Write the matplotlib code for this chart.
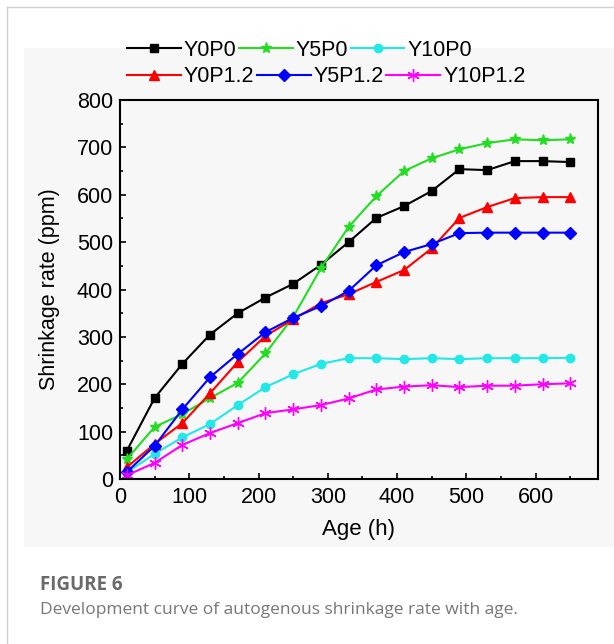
import numpy as np
import matplotlib
matplotlib.use('Agg')
import matplotlib.pyplot as plt
from matplotlib.patches import Rectangle
from matplotlib.lines import Line2D

# ages (h)
age = [10, 50, 90, 130, 170, 210, 250, 290, 330, 370, 410, 450, 490, 530, 570, 610, 650]

# shrinkage rate (ppm)
y0p0 = [60, 171, 243, 305, 350, 383, 412, 452, 500, 551, 576, 608, 654, 652, 671, 671, 669]
y5p0 = [42, 110, 137, 171, 203, 265, 342, 445, 532, 597, 650, 677, 696, 709, 717, 715, 717]
y10p0 = [14, 53, 88, 116, 156, 194, 221, 243, 255, 255, 253, 255, 253, 255, 255, 255, 256]
y0p12 = [25, 74, 118, 181, 247, 302, 337, 371, 390, 416, 441, 487, 551, 574, 593, 595, 595]
y5p12 = [15, 70, 147, 215, 264, 310, 340, 365, 397, 451, 479, 496, 519, 520, 520, 520, 520]
y10p12 = [8, 34, 72, 97, 118, 139, 147, 156, 170, 189, 195, 198, 194, 197, 197, 200, 202]

series = [
    ('Y0P0', y0p0, 'black', 's', 6),
    ('Y5P0', y5p0, '#22dd22', '*', 8),
    ('Y10P0', y10p0, '#22e8e8', 'o', 6),
    ('Y0P1.2', y0p12, 'red', '^', 7),
    ('Y5P1.2', y5p12, 'blue', 'D', 6),
    ('Y10P1.2', y10p12, 'magenta', (6, 2, 0), 9),
]

plt.rcParams['font.family'] = ['Liberation Sans', 'DejaVu Sans']

W, H = 614, 644
fig = plt.figure(figsize=(W / 100, H / 100), dpi=100)
fig.patch.set_facecolor('white')

# page frame and grey chart panel
fig.add_artist(Line2D([7 / W, 1], [1 - 7 / H, 1 - 7 / H], color='#d0d0d0', lw=1))
fig.add_artist(Line2D([7 / W, 7 / W], [0, 1 - 7 / H], color='#d0d0d0', lw=1))
fig.add_artist(Rectangle((24 / W, 1 - 547 / H), 1 - 24 / W, (547 - 48) / H,
                         transform=fig.transFigure, facecolor='#f7f7f7',
                         edgecolor='none', zorder=0))

ax = fig.add_axes([120 / W, 1 - 479 / H, 478 / W, 379 / H])
ax.set_facecolor('#f7f7f7')

handles = []
for name, vals, col, mk, ms in series:
    ln, = ax.plot(age, vals, color=col, lw=1.5, marker=mk, markersize=ms,
                  markeredgewidth=1.0, label=name)
    handles.append(ln)

ax.set_xlim(0, 690)
ax.set_ylim(0, 800)
ax.set_xticks(np.arange(0, 700, 100))
ax.set_yticks(np.arange(0, 900, 100))
ax.set_xticks(np.arange(50, 690, 100), minor=True)
ax.set_yticks(np.arange(50, 800, 100), minor=True)
ax.tick_params(which='both', direction='in', top=False, right=False,
               width=1.2, labelsize=15.5)
ax.tick_params(which='major', length=4)
ax.tick_params(which='minor', length=2.5)
ax.tick_params(axis='x', pad=6)
ax.tick_params(axis='y', pad=5)
for s in ax.spines.values():
    s.set_linewidth(1.5)

ax.set_xlabel('Age (h)', fontsize=16, labelpad=8)
ax.set_ylabel('Shrinkage rate (ppm)', fontsize=15.5, labelpad=12)

# legend in two rows
leg_kw = dict(frameon=False, ncol=3, fontsize=15.5, handlelength=2.5,
              handletextpad=0.15, columnspacing=0.1, borderpad=0,
              borderaxespad=0, loc='center left')
fig.legend(handles=handles[:3], bbox_to_anchor=(127 / W, 1 - 50 / H), **leg_kw)
fig.legend(handles=handles[3:], bbox_to_anchor=(127 / W, 1 - 77 / H), **leg_kw)

# caption
fig.text(40 / W, 1 - 585 / H, 'FIGURE 6', fontsize=13.5, fontweight='bold',
         color='#6a6a6a', family=['Open Sans', 'DejaVu Sans'], va='center')
fig.text(40 / W, 1 - 610 / H, 'Development curve of autogenous shrinkage rate with age.',
         fontsize=12.5, color='#777777', family=['Open Sans', 'DejaVu Sans'],
         va='center')

fig.savefig('out.png', dpi=100)
